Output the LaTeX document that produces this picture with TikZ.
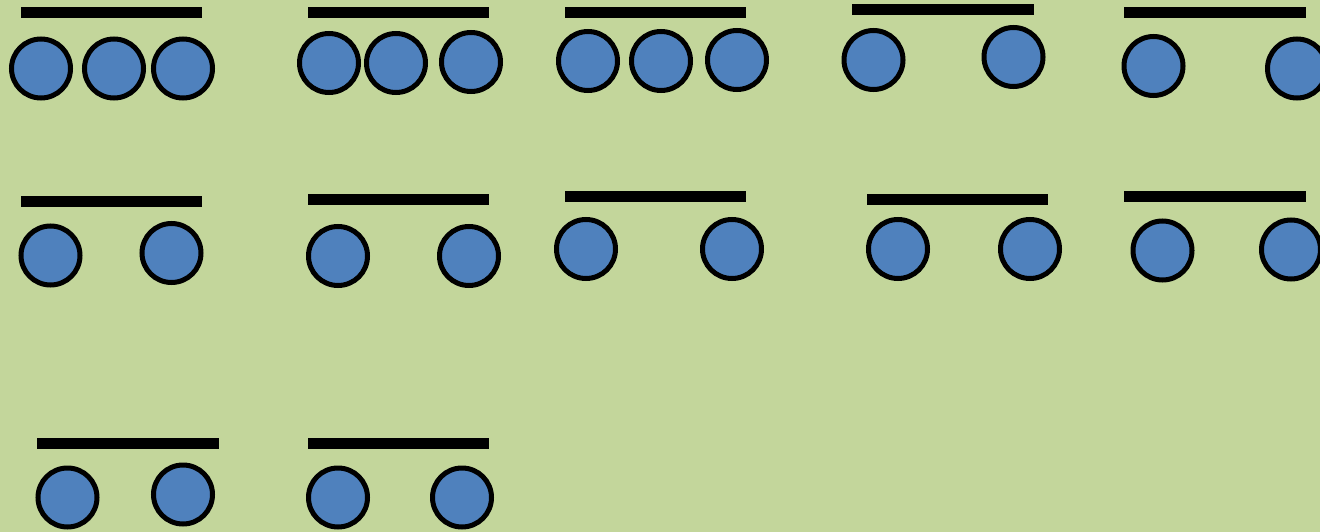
\documentclass[tikz,border=0pt]{standalone}
\definecolor{bggreen}{HTML}{C3D69B}
\definecolor{ballblue}{HTML}{4F81BD}
\tikzset{
  ball/.style={circle, draw=black, fill=ballblue, line width=5pt, minimum size=59pt, inner sep=0pt},
}
\newcommand{\bbar}[3]{\fill[black] (#1,#3-5.5) rectangle (#2,#3+5.5);}
\begin{document}
\begin{tikzpicture}[x=1pt,y=-1pt]
\fill[bggreen] (0,0) rectangle (1320,532);
\useasboundingbox (0,0) rectangle (1320,532);
% row 1
\bbar{21}{202}{12.5}
\node[ball] (a1) at (41,68.5) {};
\node[ball] (a2) at (114,68.5) {};
\node[ball] (a3) at (183,68.5) {};
\bbar{308}{489}{12.5}
\node[ball] (b1) at (329,63) {};
\node[ball] (b2) at (396,63) {};
\node[ball] (b3) at (471,62) {};
\bbar{565}{746}{12.5}
\node[ball] (c1) at (588,61) {};
\node[ball] (c2) at (661,61) {};
\node[ball] (c3) at (737,60) {};
\bbar{852}{1034}{9.5}
\node[ball] (d1) at (873.5,60) {};
\node[ball] (d2) at (1013.5,57) {};
\bbar{1124}{1306}{12.5}
\node[ball] (e1) at (1153.5,66) {};
\node[ball] (e2) at (1297,68.5) {};
% row 2
\bbar{21}{202}{201}
\node[ball] (f1) at (50.5,255.5) {};
\node[ball] (f2) at (171.5,253) {};
\bbar{308}{489}{199.5}
\node[ball] (g1) at (338,256) {};
\node[ball] (g2) at (469,256) {};
\bbar{565}{746}{196}
\node[ball] (h1) at (586,249) {};
\node[ball] (h2) at (732,249) {};
\bbar{867}{1048}{199.5}
\node[ball] (i1) at (898,249) {};
\node[ball] (i2) at (1030,249) {};
\bbar{1124}{1306}{196.5}
\node[ball] (j1) at (1162.5,250.5) {};
\node[ball] (j2) at (1291,249.5) {};
% row 3
\bbar{37}{219}{443}
\node[ball] (k1) at (67.5,497.5) {};
\node[ball] (k2) at (183,494.5) {};
\bbar{308}{489}{443}
\node[ball] (l1) at (338,497.5) {};
\node[ball] (l2) at (462,497.5) {};
\end{tikzpicture}
\end{document}
